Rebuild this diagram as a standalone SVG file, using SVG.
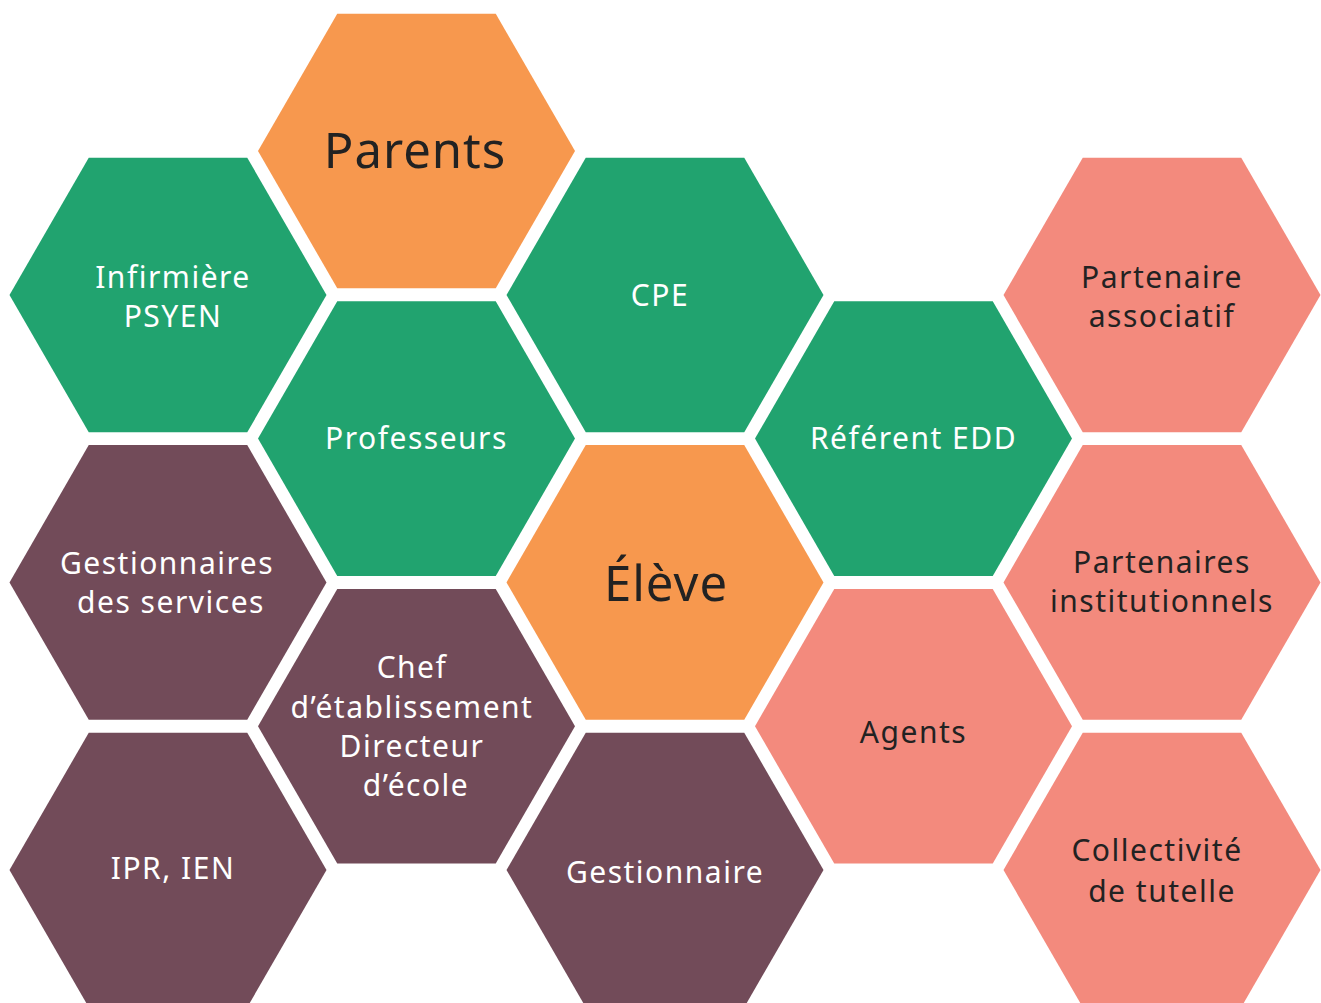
<svg xmlns="http://www.w3.org/2000/svg" xmlns:xlink="http://www.w3.org/1999/xlink" width="1321" height="1003" viewBox="0 0 1321 1003">
<style>
.orange{fill:#F7984E}
.green{fill:#21A36F}
.maroon{fill:#724B59}
.salmon{fill:#F38A7D}
text{font-family:"Noto Sans","Open Sans","Liberation Sans",sans-serif;text-anchor:middle;font-variant-ligatures:none}
.w{fill:#ffffff;font-size:30px;letter-spacing:1.5px}
.d{fill:#222222;font-size:30px;letter-spacing:1.5px}
.big{fill:#222222;font-size:49px;letter-spacing:1px}
</style>
<defs>
<polygon id="hex" points="-158.5,0 -79.25,-137.3 79.25,-137.3 158.5,0 79.25,137.3 -79.25,137.3"/>
</defs>
<rect width="1321" height="1003" fill="#ffffff"/>
<g id="connectors"/>
<g id="parents"><use xlink:href="#hex" class="orange" x="416.5" y="151"/><text class="big" x="415" y="168">Parents</text></g>
<g id="infirmiere"><use xlink:href="#hex" class="green" x="168" y="295"/><text class="w" x="173" y="288">Infirmière</text><text class="w" x="173" y="327">PSYEN</text></g>
<g id="cpe"><use xlink:href="#hex" class="green" x="665" y="295"/><text class="w" x="660" y="306">CPE</text></g>
<g id="professeurs"><use xlink:href="#hex" class="green" x="416.5" y="438.6"/><text class="w" x="416.5" y="449">Professeurs</text></g>
<g id="referent"><use xlink:href="#hex" class="green" x="913.5" y="438.6"/><text class="w" x="913.5" y="449">Référent EDD</text></g>
<g id="partenaire-associatif"><use xlink:href="#hex" class="salmon" x="1162" y="295"/><text class="d" x="1162" y="288">Partenaire</text><text class="d" x="1162" y="327">associatif</text></g>
<g id="gestionnaires-services"><use xlink:href="#hex" class="maroon" x="168" y="582.4"/><text class="w" x="167" y="574">Gestionnaires</text><text class="w" x="171" y="613">des services</text></g>
<g id="eleve"><use xlink:href="#hex" class="orange" x="665" y="582.4"/><text class="big" x="666" y="601">Élève</text></g>
<g id="partenaires-institutionnels"><use xlink:href="#hex" class="salmon" x="1162" y="582.4"/><text class="d" x="1162" y="573">Partenaires</text><text class="d" x="1162" y="612">institutionnels</text></g>
<g id="chef"><use xlink:href="#hex" class="maroon" x="416.5" y="726.2"/><text class="w" x="412" y="678">Chef</text><text class="w" x="412" y="717.5">d’établissement</text><text class="w" x="412" y="757">Directeur</text><text class="w" x="416" y="796">d’école</text></g>
<g id="agents"><use xlink:href="#hex" class="salmon" x="913.5" y="726.2"/><text class="d" x="913.5" y="743">Agents</text></g>
<g id="ipr-ien"><use xlink:href="#hex" class="maroon" x="168" y="870"/><text class="w" x="173" y="879">IPR, IEN</text></g>
<g id="gestionnaire"><use xlink:href="#hex" class="maroon" x="665" y="870"/><text class="w" x="665" y="883">Gestionnaire</text></g>
<g id="collectivite"><use xlink:href="#hex" class="salmon" x="1162" y="870"/><text class="d" x="1157" y="861">Collectivité</text><text class="d" x="1162" y="901.5">de tutelle</text></g>
</svg>
